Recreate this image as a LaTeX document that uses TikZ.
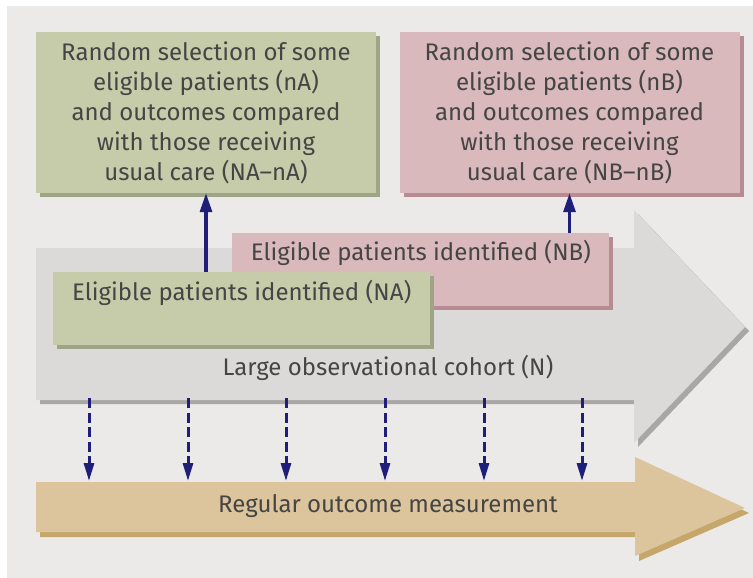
\documentclass[tikz,border=0pt]{standalone}
\usepackage{fontspec}
\setmainfont{Fira Sans}
\usetikzlibrary{arrows.meta,shadows}

\definecolor{bggray}{HTML}{EBEAE9}
\definecolor{boxgreen}{HTML}{C6CCA9}
\definecolor{shadegreen}{HTML}{9EA486}
\definecolor{boxpink}{HTML}{D9B9BB}
\definecolor{shadepink}{HTML}{B78B91}
\definecolor{cohortgray}{HTML}{DCD9D9}
\definecolor{shadegray}{HTML}{A9A6A6}
\definecolor{measuretan}{HTML}{DCC59C}
\definecolor{shadetan}{HTML}{C6A76B}
\definecolor{arrownavy}{HTML}{1F1F7A}
\definecolor{txtgray}{HTML}{454545}

\tikzset{
  lbl/.style={text=txtgray, font=\fontsize{24}{30}\selectfont, inner sep=0pt},
  topbox/.style={lbl, align=center, minimum width=340pt, minimum height=161pt},
  lowbox/.style={minimum width=377pt, minimum height=73pt, inner sep=0pt, anchor=north west},
  shade/.style={drop shadow={shadow xshift=4pt, shadow yshift=-4pt, fill=#1, opacity=1}},
  pick/.style={draw=arrownavy, line width=3.2pt, -{Triangle[length=19pt, width=12pt]}},
  measure/.style={draw=arrownavy, line width=3pt, dash pattern=on 10pt off 4.5pt,
    -{Triangle[length=18pt, width=10pt]}}
}

\begin{document}
\begin{tikzpicture}[x=1pt, y=-1pt, line join=miter]
    \useasboundingbox (0,0) rectangle (753,578);
    \fill[white] (0,0) rectangle (753,578);
    \fill[bggray] (7,6) rectangle (753,578);

    % cohort arrow
    \fill[shadegray, shift={(4,4)}] (36,248) -- (634,248) -- (634,210) -- (745,327)
      -- (634,443) -- (634,400) -- (36,400) -- cycle;
    \fill[cohortgray] (36,248) -- (634,248) -- (634,210) -- (745,327)
      -- (634,443) -- (634,400) -- (36,400) -- cycle;
    \node[lbl] (cohort) at (388,368) {Large observational cohort (N)};

    % measurement arrow
    \fill[shadetan, shift={(4,5)}] (36,482) -- (635,482) -- (635,457) -- (745,508)
      -- (635,556) -- (635,532) -- (36,532) -- cycle;
    \fill[measuretan] (36,482) -- (635,482) -- (635,457) -- (745,508)
      -- (635,556) -- (635,532) -- (36,532) -- cycle;
    \node[lbl] (measure) at (388,506) {Regular outcome measurement};

    % eligible groups
    \node[lowbox, fill=boxpink, shade=shadepink] (lowB) at (232,233) {};
    \node[lbl] (lowBtext) at (421,253) {Eligible patients identified (NB)};
    \node[lowbox, fill=boxgreen, shade=shadegreen] (lowA) at (53,272) {};
    \node[lbl, anchor=west] (lowAtext) at (72,293) {Eligible patients identified (NA)};

    % randomised subsets
    \node[topbox, fill=boxgreen, shade=shadegreen] (upA) at (206,112.5)
      {Random selection of some\\eligible patients (nA)\\and outcomes compared\\with those receiving\\usual care (NA--nA)};
    \node[topbox, fill=boxpink, shade=shadepink] (upB) at (569.5,112.5)
      {Random selection of some\\eligible patients (nB)\\and outcomes compared\\with those receiving\\usual care (NB--nB)};

    \draw[pick] (lowA.north -| upA.south) -- (upA.south);
    \draw[pick] (lowB.north -| upB.south) -- (upB.south);

    \foreach \x [count=\i] in {89,188,286,385,484,582} {
      \coordinate (obs\i) at (\x,398);
      \coordinate (msr\i) at (\x,481);
      \draw[measure] (obs\i) -- (msr\i);
    }
\end{tikzpicture}
\end{document}
